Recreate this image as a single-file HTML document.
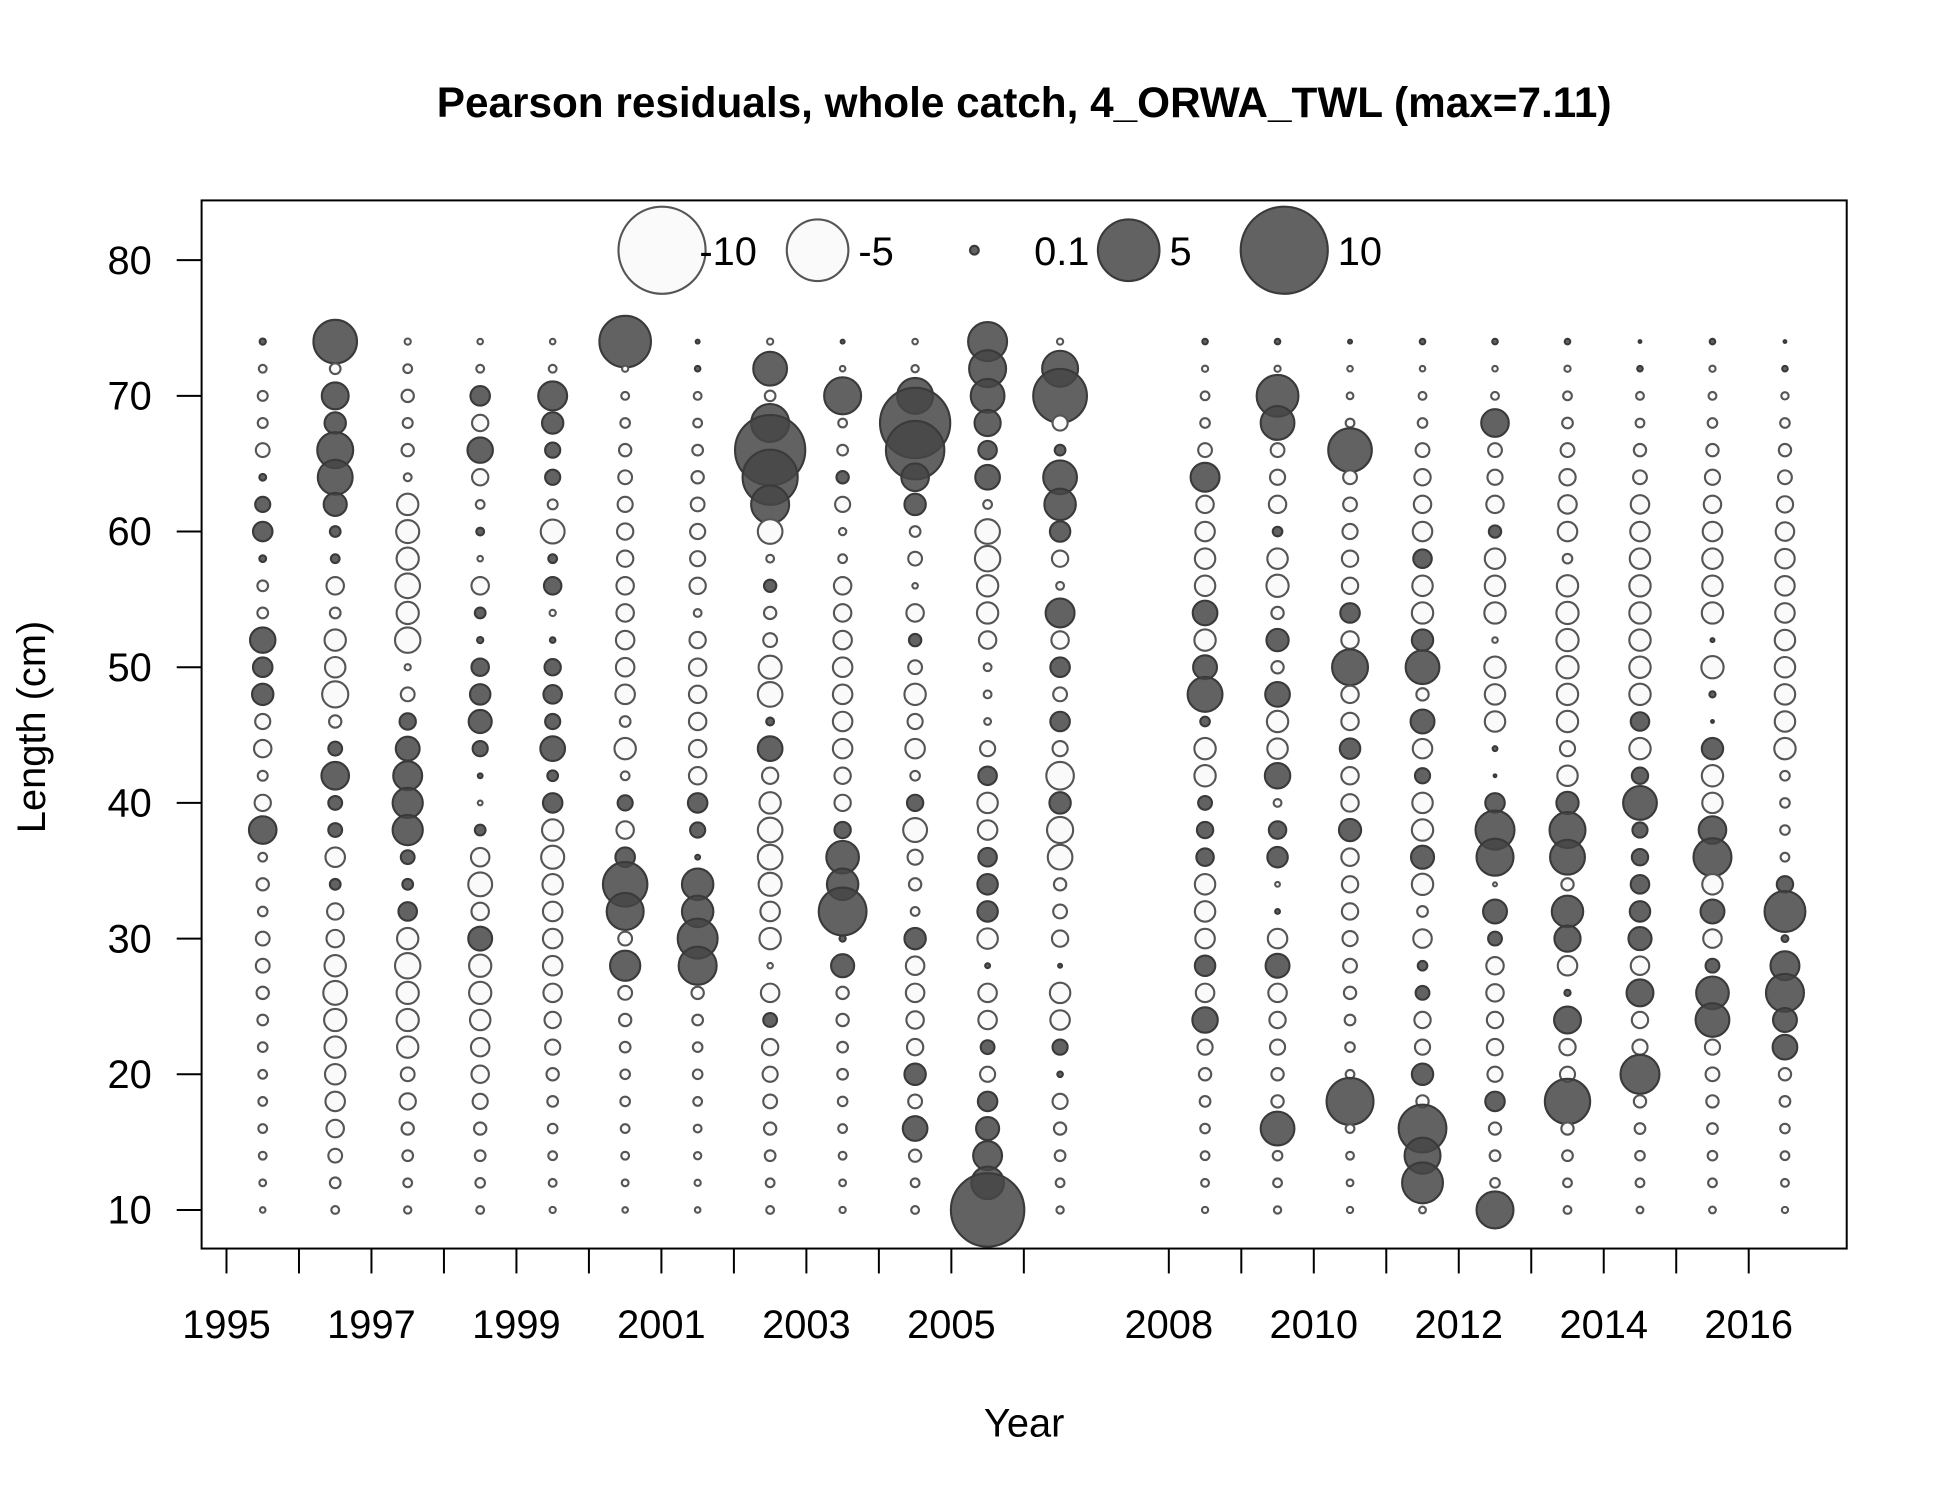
<!DOCTYPE html>
<html><head><meta charset="utf-8"><style>
html,body{margin:0;padding:0;background:#fff}
svg{display:block}
text{font-family:"Liberation Sans",Arial,sans-serif;fill:#000}
</style></head><body>
<svg id="chart" width="1950" height="1500" viewBox="0 0 1567 1205" preserveAspectRatio="none" xmlns="http://www.w3.org/2000/svg">
<rect width="1567" height="1205" fill="#fff"/>
<text x="823" y="94" font-size="34" font-weight="bold" text-anchor="middle">Pearson residuals, whole catch, 4_ORWA_TWL (max=7.11)</text>
<g id="bubbles"></g>
<rect x="162" y="161" width="1322" height="842" fill="none" stroke="#000" stroke-width="1.6"/>
<g id="legend"></g>
<g id="yaxis"></g>
<g id="xaxis"></g>
<text x="823" y="1154" font-size="32" text-anchor="middle">Year</text>
<text x="0" y="0" font-size="32" text-anchor="middle" transform="translate(36,584) rotate(-90)">Length (cm)</text>
</svg>
<script>
const years=[1995,1996,1997,1998,1999,2000,2001,2002,2003,2004,2005,2006,2008,2009,2010,2011,2012,2013,2014,2015,2016];
const lengths=[74,72,70,68,66,64,62,60,58,56,54,52,50,48,46,44,42,40,38,36,34,32,30,28,26,24,22,20,18,16,14,12,10];
const yTicks=[10,20,30,40,50,60,70,80];
const xTickYears=[1995,1996,1997,1998,1999,2000,2001,2002,2003,2004,2005,2006,2008,2009,2010,2011,2012,2013,2014,2015,2016];
const xLabels=[1995,1997,1999,2001,2003,2005,2008,2010,2012,2014,2016];
const legendValues=[-10,-5,0.1,5,10];
const legendLabels=["-10","-5","0.1","5","10"];
const r1995=[0.05,-0.08,-0.13,-0.13,-0.25,0.06,0.3,0.5,0.06,-0.15,-0.15,0.85,0.5,0.6,-0.3,-0.4,-0.13,-0.35,1.0,-0.1,-0.2,-0.12,-0.25,-0.25,-0.2,-0.15,-0.12,-0.1,-0.1,-0.1,-0.08,-0.06,-0.04];
const r1996=[2.5,-0.15,0.95,0.6,1.7,1.6,0.7,0.15,0.1,-0.4,-0.15,-0.6,-0.55,-0.9,-0.2,0.25,1.0,0.25,0.25,-0.5,0.15,-0.35,-0.4,-0.6,-0.75,-0.65,-0.6,-0.55,-0.5,-0.4,-0.25,-0.15,-0.08];
const r1997=[-0.05,-0.1,-0.2,-0.13,-0.2,-0.08,-0.6,-0.7,-0.65,-0.8,-0.65,-0.85,-0.05,-0.25,0.35,0.75,1.1,1.2,1.2,0.25,0.15,0.45,-0.6,-0.85,-0.65,-0.65,-0.6,-0.25,-0.35,-0.2,-0.15,-0.1,-0.07];
const r1998=[-0.04,-0.08,0.5,-0.35,0.85,-0.35,-0.1,0.08,-0.04,-0.4,0.15,0.05,0.4,0.55,0.7,0.3,0.03,-0.03,0.15,-0.45,-0.75,-0.4,0.75,-0.65,-0.65,-0.55,-0.45,-0.4,-0.3,-0.2,-0.15,-0.12,-0.08];
const r1999=[-0.04,-0.08,1.1,0.6,0.3,0.3,-0.13,-0.75,0.1,0.4,-0.05,0.04,0.35,0.45,0.3,0.8,0.15,0.5,-0.6,-0.7,-0.55,-0.5,-0.5,-0.5,-0.45,-0.35,-0.3,-0.2,-0.15,-0.12,-0.1,-0.08,-0.05];
const r2000=[3.5,-0.05,-0.08,-0.12,-0.2,-0.25,-0.3,-0.35,-0.35,-0.4,-0.4,-0.45,-0.45,-0.5,-0.15,-0.6,-0.1,0.3,-0.4,0.5,2.6,1.8,-0.25,1.2,-0.25,-0.2,-0.15,-0.12,-0.12,-0.1,-0.08,-0.06,-0.04];
const r2001=[0.02,0.04,-0.08,-0.1,-0.15,-0.2,-0.25,-0.3,-0.3,-0.35,-0.08,-0.35,-0.4,-0.4,-0.4,-0.4,-0.4,0.5,0.3,0.03,1.3,1.3,2.1,1.9,-0.2,-0.15,-0.12,-0.12,-0.1,-0.08,-0.07,-0.05,-0.04];
const r2002=[-0.05,1.5,-0.15,1.9,6.5,4.0,1.9,-0.8,-0.08,0.2,-0.2,-0.25,-0.7,-0.8,0.08,0.8,-0.35,-0.6,-0.8,-0.8,-0.7,-0.5,-0.6,-0.04,-0.45,0.25,-0.35,-0.3,-0.25,-0.2,-0.15,-0.1,-0.08];
const r2003=[0.02,-0.04,1.8,-0.1,-0.15,0.2,-0.3,-0.07,-0.1,-0.4,-0.4,-0.45,-0.5,-0.5,-0.5,-0.5,-0.35,-0.35,0.35,1.4,1.3,3.0,0.05,0.7,-0.2,-0.2,-0.15,-0.15,-0.12,-0.1,-0.08,-0.06,-0.05];
const r2004=[-0.04,-0.07,1.7,6.5,4.5,1.0,0.6,-0.15,-0.25,-0.04,-0.4,0.2,-0.25,-0.6,-0.3,-0.5,-0.12,0.35,-0.75,-0.3,-0.2,-0.1,0.6,-0.45,-0.45,-0.4,-0.35,0.6,-0.25,0.8,-0.2,-0.1,-0.08];
const r2005=[2.0,1.8,1.5,0.9,0.45,0.8,-0.1,-0.8,-0.85,-0.6,-0.6,-0.4,-0.08,-0.08,-0.06,-0.3,0.45,-0.55,-0.5,0.45,0.55,0.55,-0.55,0.03,-0.45,-0.45,0.25,-0.3,0.5,0.7,1.1,1.4,7.1];
const r2006=[-0.05,1.7,3.8,-0.3,0.15,1.5,1.3,0.55,-0.35,-0.08,1.1,-0.4,0.5,-0.25,0.5,-0.3,-1.0,0.6,-0.9,-0.8,-0.2,-0.25,-0.35,0.02,-0.55,-0.5,0.3,0.04,-0.3,-0.2,-0.15,-0.1,-0.07];
const r2008=[0.04,-0.05,-0.1,-0.12,-0.25,1.1,-0.4,-0.5,-0.55,-0.55,0.8,-0.6,0.75,1.6,0.12,-0.6,-0.6,0.25,0.35,0.4,-0.55,-0.55,-0.5,0.55,-0.45,0.85,-0.3,-0.2,-0.15,-0.12,-0.1,-0.08,-0.05];
const r2009=[0.04,-0.05,2.3,1.5,-0.25,-0.3,-0.4,0.12,-0.55,-0.65,-0.2,0.65,-0.2,0.8,-0.6,-0.55,0.85,-0.08,0.4,0.55,-0.03,0.03,-0.5,0.75,-0.45,-0.35,-0.3,-0.2,-0.2,1.5,-0.12,-0.1,-0.07];
const r2010=[0.02,-0.04,-0.06,-0.1,2.5,-0.25,-0.25,-0.3,-0.35,-0.35,0.5,-0.4,1.7,-0.4,-0.4,0.55,-0.4,-0.4,0.65,-0.4,-0.35,-0.35,-0.3,-0.25,-0.2,-0.15,-0.12,-0.1,2.9,-0.1,-0.08,-0.06,-0.05];
const r2011=[0.04,-0.04,-0.08,-0.12,-0.25,-0.35,-0.4,-0.5,0.45,-0.55,-0.6,0.6,1.5,-0.2,0.75,-0.5,0.3,-0.55,-0.6,0.7,-0.6,-0.15,-0.45,0.12,0.25,-0.35,-0.3,0.6,-0.2,3.0,1.7,2.2,-0.06];
const r2012=[0.04,-0.04,-0.08,1.0,-0.25,-0.3,-0.4,0.2,-0.55,-0.55,-0.6,-0.04,-0.6,-0.55,-0.55,0.03,0.01,0.5,2.0,1.8,-0.02,0.75,0.25,-0.4,-0.4,-0.35,-0.35,-0.3,0.5,-0.2,-0.15,-0.12,1.8];
const r2013=[0.04,-0.05,-0.1,-0.15,-0.25,-0.35,-0.45,-0.5,-0.12,-0.6,-0.65,-0.65,-0.65,-0.6,-0.6,-0.3,-0.55,0.65,1.7,1.6,-0.2,1.3,0.9,-0.5,0.05,0.95,-0.35,-0.3,2.7,-0.2,-0.15,-0.1,-0.08];
const r2014=[0.01,0.04,-0.08,-0.1,-0.2,-0.25,-0.45,-0.5,-0.55,-0.6,-0.6,-0.6,-0.6,-0.6,0.45,-0.6,0.35,1.5,0.3,0.35,0.45,0.55,0.7,-0.45,0.95,-0.35,-0.3,2.0,-0.2,-0.15,-0.12,-0.1,-0.06];
const r2015=[0.04,-0.05,-0.08,-0.12,-0.2,-0.3,-0.4,-0.5,-0.55,-0.55,-0.6,0.02,-0.65,0.05,0.01,0.6,-0.6,-0.55,1.0,1.9,-0.55,0.75,-0.45,0.25,1.4,1.5,-0.3,-0.25,-0.2,-0.15,-0.12,-0.1,-0.06];
const r2016=[0.01,0.04,-0.07,-0.12,-0.2,-0.25,-0.35,-0.45,-0.5,-0.5,-0.5,-0.55,-0.55,-0.55,-0.55,-0.6,-0.12,-0.12,-0.12,-0.1,0.35,2.2,0.06,1.1,1.9,0.75,0.8,-0.2,-0.15,-0.12,-0.1,-0.08,-0.05];
const residuals=[r1995,r1996,r1997,r1998,r1999,r2000,r2001,r2002,r2003,r2004,r2005,r2006,r2008,r2009,r2010,r2011,r2012,r2013,r2014,r2015,r2016];

const NS='http://www.w3.org/2000/svg';
function xScale(yr){return 182+(yr-1995)*58.25;}
function yScale(len){return 972-(len-10)*(972-209)/70;}
function rScale(v){return 35*Math.sqrt(Math.abs(v)/10);}
function mk(tag,attrs,parent){const e=document.createElementNS(NS,tag);for(const k in attrs)e.setAttribute(k,attrs[k]);parent.appendChild(e);return e;}
function styleBubble(c,v){
  if(v>=0){c.setAttribute('fill','rgba(70,70,70,0.85)');c.setAttribute('stroke','#3a3a3a');}
  else{c.setAttribute('fill','#fafafa');c.setAttribute('stroke','#555');}
  c.setAttribute('stroke-width','1.7');
}
const gB=document.getElementById('bubbles');
years.forEach((yr,i)=>{
  residuals[i].forEach((v,j)=>{
    const c=mk('circle',{cx:xScale(yr+0.5),cy:yScale(lengths[j]),r:rScale(v)},gB);
    styleBubble(c,v);
    
    
  });
});
const gL=document.getElementById('legend');
const legX=[532,657,783,907,1032];
legendValues.forEach((v,i)=>{
  const c=mk('circle',{cx:legX[i],cy:201,r:rScale(v)},gL);
  styleBubble(c,v);
  
  
  const t=mk('text',{x:legX[i]+rScale(v)+(i===0?-5:8),y:213,'font-size':32},gL);
  if(i===2)t.setAttribute('x',831);
  t.textContent=legendLabels[i];
  
  
});
const gY=document.getElementById('yaxis');
yTicks.forEach(v=>{
  const y=yScale(v);
  const l=mk('line',{x1:142,x2:162,y1:y,y2:y,stroke:'#000','stroke-width':1.6},gY);
  
  
  const t=mk('text',{x:122,y:y+11,'font-size':32,'text-anchor':'end'},gY);
  t.textContent=v;
  
  
});
const gX=document.getElementById('xaxis');
xTickYears.forEach(yr=>{
  const x=xScale(yr);
  const l=mk('line',{x1:x,x2:x,y1:1003,y2:1023,stroke:'#000','stroke-width':1.6},gX);
  
  
});
xLabels.forEach(yr=>{
  const t=mk('text',{x:xScale(yr),y:1075,'font-size':32,'text-anchor':'middle'},gX);
  t.textContent=yr;
  
  
});
</script>
</body></html>
